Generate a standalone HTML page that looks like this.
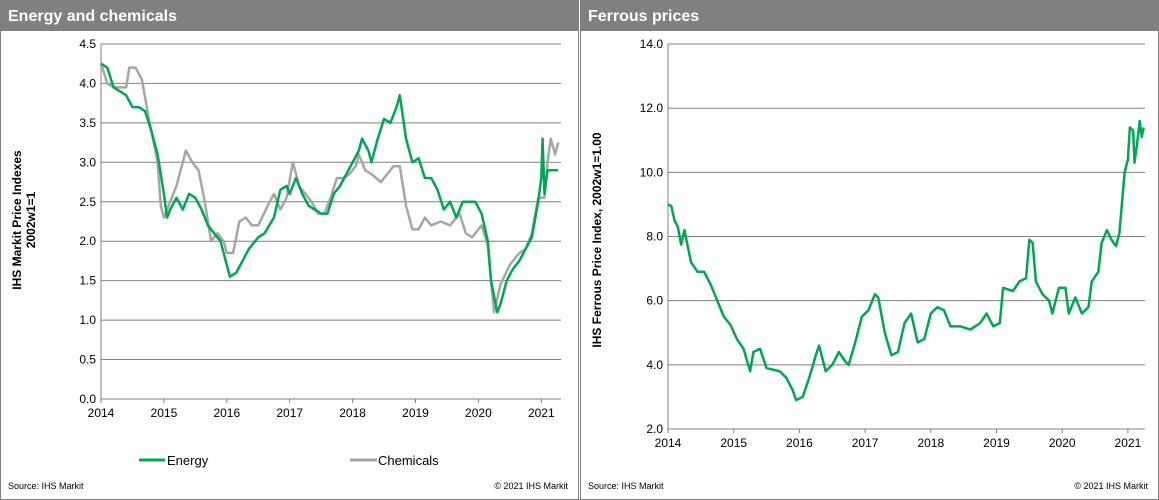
<!DOCTYPE html>
<html><head><meta charset="utf-8">
<style>
body{margin:0;background:#fff;font-family:"Liberation Sans",Arial,sans-serif;}
.panel{position:absolute;top:0;height:498px;border:1px solid #7f7f7f;background:#fff;}
.hdr{position:absolute;left:0;top:0;right:0;height:30px;background:#808080;color:#fff;font-weight:bold;font-size:16px;line-height:32px;padding-left:7px;}
svg{position:absolute;left:0;top:0;}
</style></head><body>
<div class="panel" style="left:0;width:577px;">
<div class="hdr">Energy and chemicals</div></div>
<div class="panel" style="left:580px;width:577px;">
<div class="hdr">Ferrous prices</div></div>
<svg id="s" width="1159" height="500"></svg>
<script>
const years=[2014,2015,2016,2017,2018,2019,2020,2021];
const leftTicks=[0,0.5,1,1.5,2,2.5,3,3.5,4,4.5];
const rightTicks=[2,4,6,8,10,12,14];
const energyX=[2014.0,2014.1,2014.2,2014.3,2014.4,2014.5,2014.6,2014.7,2014.8,2014.9,2015.0,2015.05,2015.1,2015.2,2015.3,2015.4,2015.5,2015.6,2015.7,2015.8,2015.9,2016.0,2016.05,2016.15,2016.25,2016.35,2016.5,2016.6,2016.75,2016.85,2016.95,2017.0,2017.1,2017.2,2017.3,2017.4,2017.5,2017.6,2017.7,2017.8,2017.9,2018.0,2018.1,2018.15,2018.25,2018.3,2018.4,2018.5,2018.6,2018.7,2018.75,2018.85,2018.95,2019.05,2019.15,2019.25,2019.35,2019.45,2019.55,2019.65,2019.75,2019.85,2019.95,2020.05,2020.15,2020.2,2020.3,2020.35,2020.45,2020.55,2020.65,2020.75,2020.85,2020.95,2021.0,2021.02,2021.05,2021.1,2021.2,2021.27];
const energyY=[4.25,4.2,3.95,3.9,3.85,3.7,3.7,3.65,3.4,3.1,2.6,2.3,2.4,2.55,2.4,2.6,2.55,2.4,2.2,2.1,2.0,1.7,1.55,1.6,1.75,1.9,2.05,2.1,2.3,2.65,2.7,2.6,2.8,2.6,2.45,2.4,2.35,2.35,2.6,2.7,2.85,3.0,3.15,3.3,3.15,3.0,3.3,3.55,3.5,3.7,3.85,3.3,3.0,3.05,2.8,2.8,2.65,2.4,2.5,2.3,2.5,2.5,2.5,2.35,2.0,1.5,1.1,1.2,1.5,1.65,1.75,1.9,2.05,2.5,2.8,3.3,2.6,2.9,2.9,2.9];
const chemX=[2014.0,2014.1,2014.2,2014.3,2014.4,2014.45,2014.55,2014.65,2014.75,2014.9,2014.95,2015.0,2015.1,2015.2,2015.3,2015.35,2015.45,2015.55,2015.65,2015.75,2015.85,2015.95,2016.0,2016.1,2016.2,2016.3,2016.4,2016.5,2016.65,2016.75,2016.85,2016.95,2017.05,2017.15,2017.25,2017.35,2017.45,2017.55,2017.65,2017.75,2017.85,2017.95,2018.05,2018.1,2018.2,2018.3,2018.45,2018.55,2018.65,2018.75,2018.85,2018.95,2019.05,2019.15,2019.25,2019.4,2019.55,2019.7,2019.8,2019.9,2020.05,2020.15,2020.2,2020.25,2020.35,2020.5,2020.65,2020.75,2020.85,2020.95,2021.05,2021.1,2021.15,2021.22,2021.27];
const chemY=[4.25,4.0,3.95,3.95,3.95,4.2,4.2,4.05,3.6,3.0,2.45,2.3,2.5,2.7,3.0,3.15,3.0,2.9,2.5,2.0,2.1,2.0,1.85,1.85,2.25,2.3,2.2,2.2,2.45,2.6,2.4,2.55,3.0,2.7,2.6,2.5,2.35,2.35,2.55,2.8,2.8,2.85,2.95,3.1,2.9,2.85,2.75,2.85,2.95,2.95,2.45,2.15,2.15,2.3,2.2,2.25,2.2,2.35,2.1,2.05,2.2,1.95,1.5,1.1,1.45,1.7,1.85,1.9,2.1,2.55,2.55,3.0,3.3,3.1,3.25];
const ferX=[2014.0,2014.05,2014.1,2014.15,2014.2,2014.25,2014.35,2014.45,2014.55,2014.65,2014.75,2014.85,2014.95,2015.05,2015.15,2015.25,2015.3,2015.4,2015.5,2015.6,2015.7,2015.8,2015.9,2015.95,2016.05,2016.15,2016.25,2016.3,2016.4,2016.5,2016.6,2016.7,2016.75,2016.85,2016.95,2017.05,2017.15,2017.2,2017.3,2017.4,2017.5,2017.6,2017.7,2017.8,2017.9,2018.0,2018.1,2018.2,2018.3,2018.45,2018.6,2018.75,2018.85,2018.95,2019.05,2019.1,2019.25,2019.35,2019.45,2019.5,2019.55,2019.6,2019.7,2019.8,2019.85,2019.95,2020.05,2020.1,2020.2,2020.3,2020.4,2020.45,2020.55,2020.6,2020.68,2020.75,2020.82,2020.87,2020.95,2021.0,2021.03,2021.08,2021.1,2021.14,2021.18,2021.21,2021.24];
const ferY=[9.0,8.95,8.5,8.3,7.75,8.2,7.2,6.9,6.9,6.5,6.0,5.5,5.25,4.8,4.5,3.8,4.4,4.5,3.9,3.85,3.8,3.6,3.2,2.9,3.0,3.6,4.3,4.6,3.8,4.0,4.4,4.1,4.0,4.7,5.5,5.7,6.2,6.1,5.0,4.3,4.4,5.3,5.6,4.7,4.8,5.6,5.8,5.7,5.2,5.2,5.1,5.3,5.6,5.2,5.3,6.4,6.3,6.6,6.7,7.9,7.8,6.6,6.2,6.0,5.6,6.4,6.4,5.6,6.1,5.6,5.8,6.6,6.9,7.8,8.2,7.9,7.7,8.1,10.0,10.4,11.4,11.3,10.3,10.9,11.6,11.1,11.4];
const svg=document.getElementById('s');const NS='http://www.w3.org/2000/svg';
function mk(t,a,txt){const e=document.createElementNS(NS,t);for(const k in a)e.setAttribute(k,a[k]);if(txt!==undefined)e.textContent=txt;svg.appendChild(e);return e;}
function chart(o){
 const X=v=>o.x0+(v-2014)*o.yw, Y=v=>o.yb-(v-o.ymin)*o.py;
 o.ticks.forEach(t=>{
  const g=mk('line',{x1:o.x0,x2:o.xr,y1:Y(t),y2:Y(t),stroke:'#808080','stroke-width':1});
  
  
  const l=mk('text',{x:o.x0-5,y:Y(t)+4,'text-anchor':'end','font-size':12,fill:'#000'},t.toFixed(1));
  
  
 });
 mk('line',{x1:o.x0,x2:o.x0,y1:Y(o.ticks[o.ticks.length-1]),y2:o.yb,stroke:'#808080'});
 years.forEach(yr=>{
  mk('line',{x1:X(yr),x2:X(yr),y1:o.yb,y2:o.yb+4,stroke:'#808080'});
  const l=mk('text',{x:X(yr),y:o.yb+18,'text-anchor':'middle','font-size':12},String(yr));
  
  
 });
 o.series.forEach(s=>{
  const p=mk('polyline',{points:s.x.map((v,i)=>X(v)+','+Y(s.y[i])).join(' '),fill:'none',stroke:s.c,'stroke-width':2.5,'stroke-linejoin':'round'});
  
  
 });
 const t=mk('text',{transform:`translate(${o.lx},${o.ly}) rotate(-90)`,'text-anchor':'middle','font-size':12,'font-weight':'bold'});
 
 
 o.label.forEach((s,i)=>{const ts=document.createElementNS(NS,'tspan');ts.setAttribute('x',0);ts.setAttribute('dy',i?14:0);ts.textContent=s;t.appendChild(ts);});
}
chart({x0:101,xr:561,yw:62.9,yb:399,ymin:0,py:78.9,ticks:leftTicks,lx:21,ly:220,label:['IHS Markit Price Indexes','2002w1=1'],
 series:[{x:chemX,y:chemY,c:'#a6a6a6',n:'chemicals-line'},{x:energyX,y:energyY,c:'#00a651',n:'energy-line'}]});
chart({x0:668,xr:1145,yw:65.7,yb:429,ymin:2,py:32.08,ticks:rightTicks,lx:601,ly:240,label:['IHS Ferrous Price Index, 2002w1=1.00'],
 series:[{x:ferX,y:ferY,c:'#00a651',n:'ferrous-line'}]});
// legend
let e=mk('line',{x1:139,x2:165,y1:460,y2:460,stroke:'#00a651','stroke-width':3});


e=mk('text',{x:167,y:465,'font-size':13},'Energy');


e=mk('line',{x1:350,x2:377,y1:460,y2:460,stroke:'#a6a6a6','stroke-width':3});


e=mk('text',{x:378,y:465,'font-size':13},'Chemicals');


[[8,'start','Source:  IHS Markit'],[568,'end','© 2021  IHS Markit'],[588,'start','Source:  IHS Markit'],[1148,'end','© 2021  IHS Markit']].forEach(a=>{
 const t=mk('text',{x:a[0],y:489,'text-anchor':a[1],'font-size':9},a[2]);
 
 
});
</script>
</body></html>
